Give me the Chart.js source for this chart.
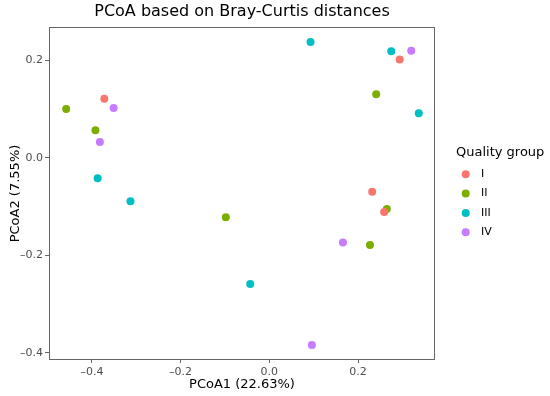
<!DOCTYPE html>
<html>
<head>
<meta charset="utf-8">
<script src="https://cdn.jsdelivr.net/npm/chart.js@4"></script>
<style>
  body { margin: 0; background: #fff; }
  #wrap { width: 550px; height: 396px; }
</style>
</head>
<body>
<div id="wrap"><canvas id="pcoaChart" width="550" height="396"></canvas></div>
<script>
// Groups and colours (ggplot default hues)
const groups = ['I', 'II', 'III', 'IV'];
const groupColors = ['#F8766D', '#7CAE00', '#00BFC4', '#C77CFF'];

// Point coordinates
const groupIx = [-0.372, 0.294, 0.232, 0.259];
const groupIy = [0.121, 0.201, -0.070, -0.111];
const groupIIx = [-0.458, -0.392, -0.098, 0.241, 0.265, 0.227];
const groupIIy = [0.100, 0.056, -0.122, 0.130, -0.105, -0.179];
const groupIIIx = [-0.387, -0.313, 0.093, 0.275, 0.337, -0.043];
const groupIIIy = [-0.042, -0.089, 0.237, 0.218, 0.091, -0.259];
const groupIVx = [-0.351, -0.382, 0.320, 0.166, 0.096];
const groupIVy = [0.102, 0.032, 0.219, -0.174, -0.384];

// Axis ticks
const xTicks = [-0.4, -0.2, 0.0, 0.2];
const yTicks = [-0.4, -0.2, 0.0, 0.2];

const xs = [groupIx, groupIIx, groupIIIx, groupIVx];
const ys = [groupIy, groupIIy, groupIIIy, groupIVy];

const fmt = v => (v < 0 ? '\u2013' : '') + Math.abs(v).toFixed(1);

const datasets = groups.map((g, i) => ({
    label: g,
    data: xs[i].map((x, j) => ({ x: x, y: ys[i][j] })),
    backgroundColor: groupColors[i],
    borderWidth: 0,
    pointRadius: 4,
    pointHoverRadius: 4
}));

// panel border + legend on the right
const panelAndLegend = {
    id: 'panelAndLegend',
    afterDraw(chart) {
        const ctx = chart.ctx;
        const a = chart.chartArea;
        ctx.save();
        ctx.strokeStyle = '#666';
        ctx.lineWidth = 1;
        ctx.strokeRect(a.left + 0.5, a.top + 0.5, a.right - a.left - 1, a.bottom - a.top - 1);

        ctx.fillStyle = '#000';
        ctx.font = '13px "DejaVu Sans"';
        ctx.textBaseline = 'middle';
        ctx.textAlign = 'left';
        ctx.fillText('Quality group', 456, 153);

        ctx.font = '11px "DejaVu Sans"';
        chart.data.datasets.forEach((ds, i) => {
            const y = 174.3 + i * 19.3;
            ctx.beginPath();
            ctx.fillStyle = ds.backgroundColor;
            ctx.arc(465.7, y, 4, 0, Math.PI * 2);
            ctx.fill();
            ctx.fillStyle = '#000';
            ctx.fillText(ds.label, 481, y);
        });
        ctx.restore();
    }
};

const ctx = document.getElementById('pcoaChart').getContext('2d');
new Chart(ctx, {
    type: 'scatter',
    data: { datasets: datasets },
    options: {
        responsive: false,
        animation: false,
        events: [],
        layout: { padding: { top: 0, right: 115, bottom: 0, left: 0 } },
        plugins: {
            legend: { display: false },
            tooltip: { enabled: false },
            title: {
                display: true,
                text: 'PCoA based on Bray-Curtis distances',
                fullSize: false,
                color: '#000',
                font: { family: 'DejaVu Sans', size: 16, weight: 'normal' },
                padding: { top: 2.5, bottom: 5.3 }
            }
        },
        scales: {
            x: {
                type: 'linear',
                min: -0.4967,
                max: 0.3736,
                afterBuildTicks: axis => { axis.ticks = xTicks.map(v => ({ value: v })); },
                afterFit: axis => { axis.height = 36; },
                ticks: {
                    callback: v => fmt(v),
                    color: '#4D4D4D',
                    font: { family: 'DejaVu Sans', size: 11 },
                    padding: 2.5,
                    maxRotation: 0
                },
                grid: { drawOnChartArea: false, drawTicks: true, tickLength: 3, color: '#666' },
                border: { display: false },
                title: {
                    display: true,
                    text: 'PCoA1 (22.63%)',
                    color: '#000',
                    font: { family: 'DejaVu Sans', size: 13 },
                    padding: { top: 0, bottom: 4 }
                }
            },
            y: {
                type: 'linear',
                min: -0.4145,
                max: 0.2678,
                afterBuildTicks: axis => { axis.ticks = yTicks.map(v => ({ value: v })); },
                afterFit: axis => { axis.width = 49; },
                ticks: {
                    callback: v => fmt(v),
                    color: '#4D4D4D',
                    font: { family: 'DejaVu Sans', size: 11 },
                    padding: 2
                },
                grid: { drawOnChartArea: false, drawTicks: true, tickLength: 4, color: '#666' },
                border: { display: false },
                title: {
                    display: true,
                    text: 'PCoA2 (7.55%)',
                    color: '#000',
                    font: { family: 'DejaVu Sans', size: 13 },
                    padding: { top: 8, bottom: 0 }
                }
            }
        }
    },
    plugins: [panelAndLegend]
});
</script>
</body>
</html>
